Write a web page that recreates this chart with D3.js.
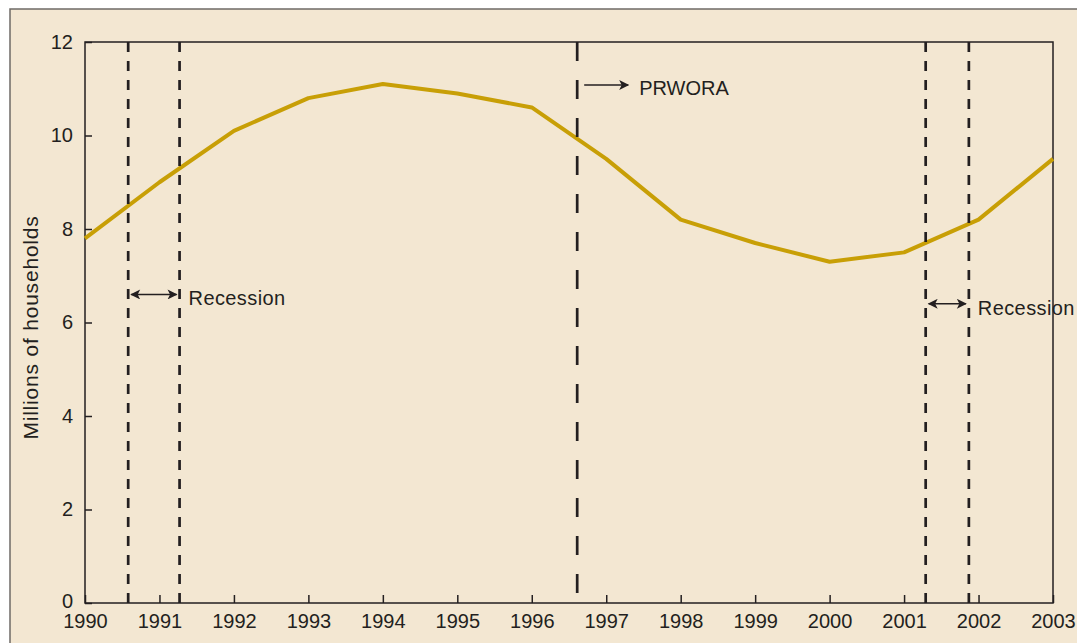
<!DOCTYPE html>
<html>
<head>
<meta charset="utf-8">
<script src="https://cdnjs.cloudflare.com/ajax/libs/d3/7.8.5/d3.min.js"></script>
<style>
  body { margin: 0; background: #fff; }
  svg { display: block; }
  text { font-family: 'Liberation Sans', Arial, sans-serif; fill: #231f20; }
</style>
</head>
<body>
<div id="chart"></div>
<script>
// households, millions
var years = [1990, 1991, 1992, 1993, 1994, 1995, 1996, 1997, 1998, 1999, 2000, 2001, 2002, 2003];
var households = [7.8, 9.0, 10.1, 10.8, 11.1, 10.9, 10.6, 9.5, 8.2, 7.7, 7.3, 7.5, 8.2, 9.5];
var yTicks = [0, 2, 4, 6, 8, 10, 12];

// recession start / end (fractional years) and label level
var recessionStart = [1990.58, 2001.29];
var recessionEnd = [1991.27, 2001.87];
var recessionLevel = [6.6, 6.4];

// welfare reform
var prworaDate = 1996.61;
var prworaLevel = 11.08;

var width = 1077,
    height = 643;
var margin = {top: 42, right: 24, bottom: 40, left: 85};
var ink = '#231f20';

var svg = d3.select('#chart')
    .append('svg')
        .attr('width', width)
        .attr('height', height);

// arrow heads
var defs = svg.append('defs');
defs.append('marker')
    .attr('id', 'head')
    .attr('viewBox', '0 0 10 10')
    .attr('refX', 9)
    .attr('refY', 5)
    .attr('markerWidth', 11)
    .attr('markerHeight', 10)
    .attr('markerUnits', 'userSpaceOnUse')
    .attr('orient', 'auto-start-reverse')
  .append('path')
    .attr('d', 'M0,0L10,5L0,10L2.5,5Z')
    .attr('fill', ink);

// outer panel
svg.append('rect')
    .attr('x', 10)
    .attr('y', 9)
    .attr('width', width + 20)
    .attr('height', height + 20)
    .attr('fill', '#f3e7d2')
    .attr('stroke', '#6f6b67')
    .attr('stroke-width', 1.5);

var x = d3.scaleLinear()
    .domain([1990, 2003])
    .range([margin.left, width - margin.right]);
var y = d3.scaleLinear()
    .domain([0, 12])
    .range([height - margin.bottom, margin.top]);

// x axis
var xAxis = svg.append('g')
    .attr('transform', 'translate(0,' + y(0) + ')')
    .call(d3.axisBottom(x)
        .tickValues(years)
        .tickFormat(d3.format('d'))
        .tickSize(-8)
        .tickPadding(11));
xAxis.select('.domain').remove();

// y axis
var yAxis = svg.append('g')
    .attr('transform', 'translate(' + x(1990) + ',0)')
    .call(d3.axisLeft(y)
        .tickValues(yTicks)
        .tickSize(-7)
        .tickPadding(12));
yAxis.select('.domain').remove();
// zero sits a touch high so it clears 1990
yAxis.selectAll('.tick text')
    .attr('dy', function(d) { return d === 0 ? '0.2em' : '0.32em'; });

svg.selectAll('.tick line')
    .attr('stroke', ink)
    .attr('stroke-width', 1.5);
svg.selectAll('.tick text')
    .style('font-size', '20px')
    .style('fill', ink);

// frame
svg.append('rect')
    .attr('x', x(1990))
    .attr('y', y(12))
    .attr('width', x(2003) - x(1990))
    .attr('height', y(0) - y(12))
    .attr('fill', 'none')
    .attr('stroke', ink)
    .attr('stroke-width', 1.5);

// axis title
svg.append('text')
    .attr('transform', 'translate(38,' + ((y(12) + y(0)) / 2 + 5) + ') rotate(-90)')
    .style('text-anchor', 'middle')
    .style('font-size', '21px')
    .style('letter-spacing', '0.8px')
    .text('Millions of households');

// series line
var line = d3.line()
    .x(function(d, i) { return x(years[i]); })
    .y(function(d) { return y(d); });

svg.append('path')
    .datum(households)
    .attr('d', line)
    .attr('fill', 'none')
    .attr('stroke', '#c89f06')
    .attr('stroke-width', 4)
    .attr('stroke-linejoin', 'round');

// recession markers
var recessionDates = recessionStart.concat(recessionEnd);
svg.selectAll('.recession')
    .data(recessionDates)
    .enter().append('line')
        .attr('class', 'recession')
        .attr('x1', function(d) { return x(d); })
        .attr('x2', function(d) { return x(d); })
        .attr('y1', y(12))
        .attr('y2', y(0))
        .attr('stroke', ink)
        .attr('stroke-width', 2.7)
        .attr('stroke-dasharray', '10,9');

svg.selectAll('.recession-arrow')
    .data(recessionStart)
    .enter().append('line')
        .attr('class', 'recession-arrow')
        .attr('x1', function(d) { return x(d) + 3; })
        .attr('x2', function(d, i) { return x(recessionEnd[i]) - 3; })
        .attr('y1', function(d, i) { return y(recessionLevel[i]); })
        .attr('y2', function(d, i) { return y(recessionLevel[i]); })
        .attr('stroke', ink)
        .attr('stroke-width', 1.5)
        .attr('marker-start', 'url(#head)')
        .attr('marker-end', 'url(#head)');

svg.selectAll('.recession-label')
    .data(recessionEnd)
    .enter().append('text')
        .attr('class', 'recession-label')
        .attr('x', function(d) { return x(d) + 9; })
        .attr('y', function(d, i) { return y(recessionLevel[i]) + 11; })
        .style('font-size', '20px')
        .style('letter-spacing', '0.4px')
        .text('Recession');

// PRWORA marker
svg.append('line')
    .attr('x1', x(prworaDate))
    .attr('x2', x(prworaDate))
    .attr('y1', y(12))
    .attr('y2', y(0))
    .attr('stroke', ink)
    .attr('stroke-width', 2.7)
    .attr('stroke-dasharray', '19,19');

svg.append('line')
    .attr('x1', x(prworaDate) + 7)
    .attr('x2', x(prworaDate) + 51)
    .attr('y1', y(prworaLevel))
    .attr('y2', y(prworaLevel))
    .attr('stroke', ink)
    .attr('stroke-width', 1.5)
    .attr('marker-end', 'url(#head)');

svg.append('text')
    .attr('x', x(prworaDate) + 62)
    .attr('y', y(prworaLevel) + 10)
    .style('font-size', '20px')
    .text('PRWORA');
</script>
</body>
</html>
